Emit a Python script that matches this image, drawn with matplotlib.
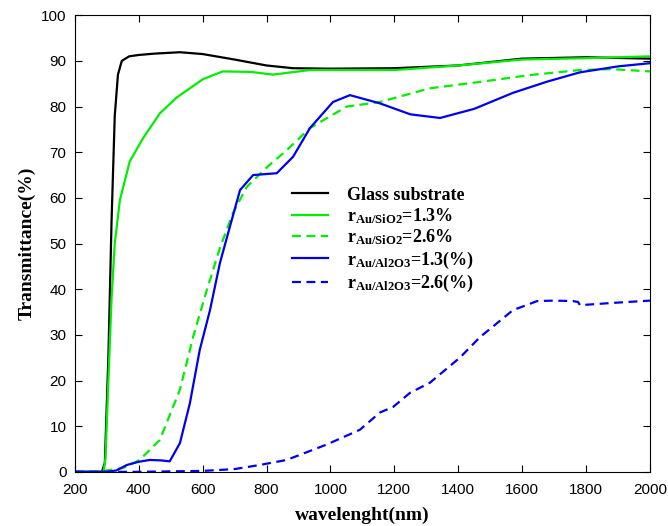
import matplotlib
matplotlib.use("Agg")
import matplotlib.pyplot as plt

plt.rcParams["mathtext.fontset"] = "custom"
plt.rcParams["mathtext.rm"] = "Liberation Serif:bold"
plt.rcParams["mathtext.default"] = "rm"

# glass substrate
glass_wl = [200, 285, 294, 305, 315, 325, 335, 347, 370, 400, 450, 529, 600, 700, 800, 883, 1000, 1200, 1400, 1600, 1800, 2000]
glass_t = [0, 0, 2, 25, 55, 78, 87, 90, 91, 91.3, 91.6, 91.9, 91.5, 90.3, 89, 88.4, 88.3, 88.4, 89, 90.5, 90.8, 90.5]

# r Au/SiO2 = 1.3%
sio2_13_wl = [200, 290, 296, 305, 315, 325, 341, 372, 413, 466, 519, 601, 663, 750, 820, 936, 1100, 1200, 1400, 1600, 1800, 2000]
sio2_13_t = [0, 0, 3, 20, 38, 50, 59.5, 68, 73, 78.5, 82, 86, 87.7, 87.6, 87, 88, 88, 88, 89, 90.3, 90.6, 91]

# r Au/SiO2 = 2.6%
sio2_26_wl = [200, 285, 300, 350, 403, 466, 529, 570, 613, 654, 695, 738, 801, 864, 936, 1051, 1155, 1311, 1468, 1624, 1781, 1880, 2000]
sio2_26_t = [0, 0, 0.3, 0.8, 2.6, 7, 18, 29.5, 39.8, 49, 56.7, 62.4, 66.7, 70.5, 75.3, 80, 81, 84, 85.4, 86.9, 88, 88.2, 87.7]

# r Au/Al2O3 = 1.3(%)
al_13_wl = [200, 300, 330, 363, 400, 435, 470, 497, 529, 560, 591, 623, 654, 685, 717, 758, 832, 883, 936, 1008, 1061, 1155, 1250, 1343, 1450, 1571, 1680, 1781, 1900, 2000]
al_13_t = [0, 0, 0.3, 1.5, 2.2, 2.6, 2.5, 2.3, 6.3, 15, 26.7, 35.4, 45.7, 53.6, 61.7, 65, 65.4, 69, 75.3, 81, 82.5, 80.7, 78.3, 77.5, 79.5, 83, 85.5, 87.5, 88.8, 89.5]

# r Au/Al2O3 = 2.6(%)
al_26_wl = [200, 400, 600, 700, 779, 863, 989, 1092, 1155, 1196, 1249, 1311, 1405, 1468, 1571, 1647, 1700, 1759, 1775, 1781, 1884, 2000]
al_26_t = [0, 0, 0.2, 0.6, 1.5, 2.6, 6, 9.2, 13, 14.2, 17.3, 19.5, 25, 29.5, 35.4, 37.4, 37.5, 37.4, 37.2, 36.5, 37, 37.5]

fig = plt.figure(figsize=(6.68, 5.26), dpi=100)
ax = fig.add_axes([0.112, 0.103, 0.861, 0.868])

ax.plot(glass_wl, glass_t, color="black", lw=1.6, label="Glass substrate")
ax.plot(sio2_13_wl, sio2_13_t, color="#00ee00", lw=1.6, label=r"r$_{\mathrm{Au/SiO2}}$=1.3%")
ax.plot(sio2_26_wl, sio2_26_t, color="#00ee00", lw=1.6, ls=(0, (4, 2.5)), label=r"r$_{\mathrm{Au/SiO2}}$=2.6%")
ax.plot(al_13_wl, al_13_t, color="#0000ee", lw=1.6, label=r"r$_{\mathrm{Au/Al2O3}}$=1.3(%)")
ax.plot(al_26_wl, al_26_t, color="#0000ee", lw=1.6, ls=(0, (4, 2.5)), label=r"r$_{\mathrm{Au/Al2O3}}$=2.6(%)")

ax.set_xlim(200, 2000)
ax.set_ylim(0, 100)
ax.set_xticks(range(200, 2001, 200))
ax.set_yticks(range(0, 101, 10))
ax.tick_params(direction="in", top=True, right=True, length=5, labelsize=11)
ax.tick_params(axis="y", pad=6)
ax.tick_params(axis="x", pad=8)
for lab in ax.get_xticklabels() + ax.get_yticklabels():
    lab.set_family("Liberation Sans")

ax.set_xlabel("wavelenght(nm)", family="Liberation Serif", weight="bold", fontsize=14, labelpad=7)
ax.set_ylabel("Transmittance(%)", family="Liberation Serif", weight="bold", fontsize=14)

leg = ax.legend(loc="upper left", bbox_to_anchor=(0.35, 0.66), frameon=False,
                handlelength=2.0, handletextpad=1.0, labelspacing=0.12,
                prop={"family": "Liberation Serif", "weight": "bold", "size": 13})

fig.savefig("out.png", dpi=100)
